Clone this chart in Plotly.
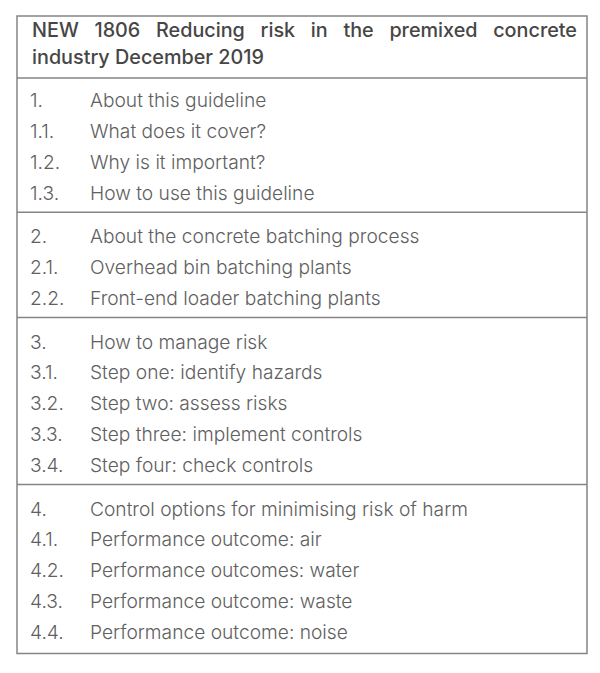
import plotly.graph_objects as go

# header text, split in the two lines as printed
header_lines = [
    "NEW 1806 Reducing risk in the premixed concrete",
    "industry December 2019",
]

# table of contents entries
item_numbers = [
    "1.", "1.1.", "1.2.", "1.3.",
    "2.", "2.1.", "2.2.",
    "3.", "3.1.", "3.2.", "3.3.", "3.4.",
    "4.", "4.1.", "4.2.", "4.3.", "4.4.",
]
item_titles = [
    "About this guideline",
    "What does it cover?",
    "Why is it important?",
    "How to use this guideline",
    "About the concrete batching process",
    "Overhead bin batching plants",
    "Front-end loader batching plants",
    "How to manage risk",
    "Step one: identify hazards",
    "Step two: assess risks",
    "Step three: implement controls",
    "Step four: check controls",
    "Control options for minimising risk of harm",
    "Performance outcome: air",
    "Performance outcomes: water",
    "Performance outcome: waste",
    "Performance outcome: noise",
]
item_sections = [1, 1, 1, 1, 2, 2, 2, 3, 3, 3, 3, 3, 4, 4, 4, 4, 4]

W, H = 600, 673
OFF = 8  # page body margin around the plot
BOX_L, BOX_R, BOX_T = 17 - OFF, 587 - OFF, 16 - OFF
HEAD_RULE = 78 - OFF
ROW_PITCH = 30.9
SECTION_GAP = 12.5
FIRST_ROW = 102.5 - OFF
NUM_X, TITLE_X = 30 - OFF, 90 - OFF
LINE_COLOR = '#858585'
TEXT_COLOR = '#606060'
HEAD_COLOR = '#464646'
FONT = 'Inter, Liberation Sans, Arial, sans-serif'

row_y = [FIRST_ROW + i * ROW_PITCH + (s - 1) * SECTION_GAP
         for i, s in enumerate(item_sections)]

# horizontal rules: after header, after each section, bottom
rules = [HEAD_RULE]
for k in range(1, len(row_y)):
    if item_sections[k] != item_sections[k - 1]:
        rules.append(row_y[k - 1] + 17)
bottom = row_y[-1] + 19

fig = go.Figure()

body_font = dict(family=FONT, size=19.2, color=TEXT_COLOR, weight=300)
fig.add_trace(go.Scatter(
    x=[NUM_X] * len(item_numbers), y=row_y, text=item_numbers,
    mode='text', textposition='middle right', hoverinfo='skip', textfont=body_font,
))
fig.add_trace(go.Scatter(
    x=[TITLE_X] * len(item_titles), y=row_y, text=item_titles,
    mode='text', textposition='middle right', hoverinfo='skip', textfont=body_font,
))

# header: first line is justified across the box
head_y = [BOX_T + 14, BOX_T + 41]
words = header_lines[0].split(' ')
gap = '\u00a0\u00a0\u2009\u200a'
head_font = dict(family=FONT, size=19.8, color=HEAD_COLOR, weight=500)
fig.add_annotation(x=NUM_X, y=head_y[0], xref='x', yref='y', xanchor='left', yanchor='middle',
                   text=gap.join(words), showarrow=False, font=head_font)
fig.add_annotation(x=NUM_X, y=head_y[1], xref='x', yref='y', xanchor='left', yanchor='middle',
                   text=header_lines[1], showarrow=False, font=head_font)

line = dict(color=LINE_COLOR, width=1.5)
fig.add_shape(type='rect', x0=BOX_L, x1=BOX_R, y0=BOX_T, y1=bottom, xref='x', yref='y', line=line)
for r in rules:
    fig.add_shape(type='line', x0=BOX_L, x1=BOX_R, y0=r, y1=r, xref='x', yref='y', line=line)

fig.update_layout(
    width=W, height=H,
    margin=dict(l=0, r=0, t=0, b=0),
    showlegend=False,
    plot_bgcolor='white',
    paper_bgcolor='white',
    xaxis=dict(range=[0, W], visible=False, fixedrange=True),
    yaxis=dict(range=[H, 0], visible=False, fixedrange=True),
)

fig.write_html("out.html")
